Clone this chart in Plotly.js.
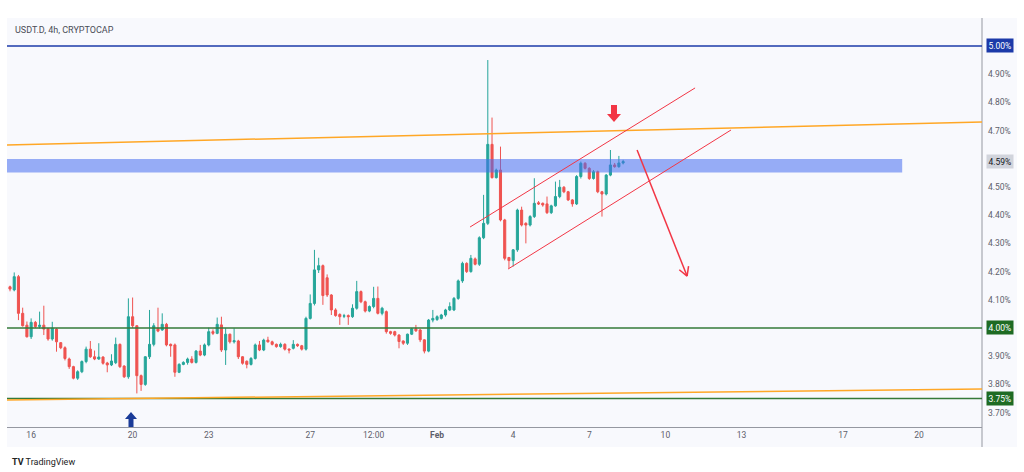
<!DOCTYPE html>
<html>
<head>
<meta charset="utf-8">
<script src="https://cdn.plot.ly/plotly-3.0.1.min.js"></script>
<style>
  html,body{margin:0;padding:0;background:#ffffff;}
  #chart{width:1024px;height:472px;}
</style>
</head>
<body>
<div id="chart"></div>
<script>
// ---- 4h candles, USDT.D ----
const firstCandle = '2025-01-15T04:00:00Z';
const candleHours = 4;

const openP = [4.146,4.135,4.182,4.052,4.010,3.969,4.020,4.005,4.010,3.998,
3.961,3.996,3.948,3.930,3.890,3.863,3.822,3.845,3.881,3.925,
3.898,3.890,3.897,3.876,3.869,3.877,3.942,3.865,3.827,4.040,
4.008,3.831,3.800,3.898,3.942,3.999,3.993,4.013,3.942,3.940,
3.843,3.871,3.878,3.890,3.878,3.918,3.904,3.940,3.987,3.981,
4.011,3.922,3.978,3.951,3.954,3.898,3.882,3.871,3.892,3.940,
3.922,3.957,3.951,3.942,3.934,3.942,3.925,3.928,3.942,3.937,
3.925,4.034,4.087,4.206,4.221,4.178,4.117,4.064,4.048,4.042,
4.044,4.040,4.070,4.129,4.093,4.060,4.076,4.105,4.052,4.058,
3.987,3.987,3.975,3.954,3.946,3.978,3.997,3.993,3.958,3.918,
4.028,4.030,4.034,4.046,4.064,4.064,4.105,4.167,4.229,4.200,
4.245,4.226,4.320,4.371,4.651,4.533,4.560,4.383,4.250,4.239,
4.277,4.418,4.371,4.365,4.395,4.444,4.442,4.440,4.409,4.433,
4.466,4.499,4.483,4.454,4.440,4.537,4.584,4.566,4.530,4.554,
4.483,4.475,4.542,4.578,4.572,4.585];

const highP = [4.150,4.197,4.188,4.072,4.023,4.034,4.025,4.058,4.079,4.000,
4.022,4.000,3.950,3.935,3.895,3.866,3.850,3.885,3.934,3.954,
3.920,3.946,3.900,3.880,3.907,3.966,3.945,3.868,4.105,4.108,
4.010,3.835,3.900,4.064,4.017,4.072,4.052,4.018,3.945,3.945,
3.875,3.882,3.895,3.900,3.922,3.940,3.945,4.001,3.995,4.037,
4.040,3.999,3.980,3.999,3.958,3.900,3.885,3.897,3.945,3.954,
3.962,3.969,3.955,3.945,3.948,3.946,3.928,3.957,3.945,3.940,
4.040,4.119,4.277,4.249,4.225,4.190,4.120,4.070,4.052,4.050,
4.048,4.084,4.167,4.133,4.097,4.080,4.146,4.147,4.075,4.062,
3.990,3.990,3.978,3.956,3.980,4.000,4.011,3.997,3.960,4.032,
4.064,4.045,4.050,4.068,4.091,4.110,4.172,4.235,4.233,4.259,
4.250,4.325,4.472,4.950,4.746,4.565,4.643,4.387,4.252,4.280,
4.423,4.430,4.375,4.400,4.531,4.450,4.445,4.466,4.437,4.519,
4.525,4.503,4.486,4.457,4.542,4.590,4.588,4.570,4.560,4.558,
4.486,4.546,4.631,4.585,4.610,4.596];

const lowP = [4.130,4.130,4.028,4.005,3.966,3.961,4.000,3.998,3.975,3.955,
3.955,3.916,3.925,3.885,3.855,3.818,3.816,3.840,3.875,3.894,
3.886,3.887,3.870,3.843,3.865,3.872,3.858,3.823,3.820,4.000,
3.768,3.777,3.795,3.890,3.935,3.985,3.990,3.935,3.898,3.827,
3.840,3.868,3.870,3.874,3.874,3.900,3.900,3.935,3.975,3.978,
3.915,3.869,3.945,3.945,3.890,3.870,3.857,3.867,3.888,3.918,
3.918,3.948,3.938,3.930,3.930,3.920,3.910,3.924,3.933,3.920,
3.920,4.030,4.080,4.195,4.082,4.110,4.046,4.040,4.011,4.035,
4.011,4.036,4.065,4.088,4.055,4.056,4.070,4.048,4.045,3.980,
3.976,3.970,3.928,3.940,3.940,3.975,3.986,3.950,3.910,3.914,
4.020,4.025,4.030,4.040,4.060,4.060,4.100,4.160,4.195,4.196,
4.222,4.220,4.315,4.365,4.530,4.530,4.378,4.240,4.212,4.218,
4.270,4.360,4.300,4.360,4.390,4.436,4.430,4.404,4.404,4.430,
4.460,4.478,4.450,4.430,4.436,4.530,4.562,4.525,4.526,4.478,
4.395,4.470,4.538,4.568,4.568,4.580];

const closeP = [4.138,4.182,4.052,4.008,3.969,4.020,4.005,4.010,3.996,3.961,
3.999,3.951,3.930,3.892,3.863,3.822,3.845,3.881,3.925,3.898,
3.890,3.897,3.875,3.869,3.883,3.942,3.863,3.827,4.040,4.008,
3.831,3.800,3.898,3.942,4.008,3.989,4.013,3.940,3.937,3.843,
3.871,3.878,3.890,3.878,3.918,3.904,3.940,3.987,3.981,4.013,
3.922,3.978,3.951,3.955,3.898,3.875,3.871,3.892,3.940,3.922,
3.957,3.951,3.942,3.934,3.942,3.925,3.922,3.942,3.937,3.925,
4.034,4.087,4.206,4.221,4.115,4.117,4.064,4.044,4.040,4.043,
4.040,4.070,4.129,4.093,4.060,4.076,4.105,4.052,4.070,3.987,
3.981,3.975,3.952,3.946,3.978,3.997,3.990,3.958,3.918,4.028,
4.034,4.040,4.046,4.064,4.076,4.105,4.167,4.229,4.200,4.247,
4.226,4.320,4.371,4.651,4.533,4.560,4.383,4.247,4.239,4.277,
4.418,4.365,4.365,4.395,4.442,4.440,4.436,4.409,4.433,4.466,
4.499,4.483,4.454,4.440,4.537,4.584,4.566,4.530,4.554,4.483,
4.475,4.542,4.578,4.572,4.585,4.590];

// ---- axis ticks ----
const xTickDates  = ['2025-01-16','2025-01-20','2025-01-23','2025-01-27','2025-01-29 12:00','2025-02-01','2025-02-04','2025-02-07','2025-02-10','2025-02-13','2025-02-17','2025-02-20'];
const xTickLabels = ['16','20','23','27','12:00','<b>Feb</b>','4','7','10','13','17','20'];
const yTickVals   = [3.7,3.8,3.9,4.1,4.2,4.3,4.4,4.5,4.7,4.8,4.9];
const xRange = ['2025-01-15 01:10','2025-02-22 11:30'];
const yRange = [3.649, 5.099];

// ---- drawings (levels, trendlines, channel) ----
const levelBlue = 5.00, levelGreenA = 4.00, levelGreenB = 3.75, lastPrice = 4.59;
const upperTrend = [4.649, 4.730];          // price at left / right edge
const lowerTrend = [3.745, 3.784];
const zone = {x1:'2025-02-19 08:00', y0:4.551, y1:4.599};
const channelUpper = [['2025-02-02 07:13',4.358],['2025-02-11 04:04',4.851]];
const channelLower = [['2025-02-03 19:10',4.209],['2025-02-12 14:06',4.702]];
const projArrow = [['2025-02-08 21:13',4.631],['2025-02-10 20:30',4.184]];
const projHeadL = ['2025-02-10 13:08',4.2064];
const projHeadR = ['2025-02-10 21:55',4.2195];

// timestamps
const t0 = Date.parse(firstCandle);
const times = openP.map((_,i)=>new Date(t0 + i*candleHours*3600e3).toISOString().slice(0,16).replace('T',' '));

const GREEN='#26a69a', RED='#ef5350', LINERED='#f23645';

const trace = {
  type:'candlestick', x:times, open:openP, high:highP, low:lowP, close:closeP,
  increasing:{line:{color:GREEN,width:1},fillcolor:GREEN},
  decreasing:{line:{color:RED,width:1},fillcolor:RED},
  whiskerwidth:0, hoverinfo:'skip'
};

// pixel -> paper helper for small decorative block arrows
const P = {l:7,r:982,t:18,b:427};
function px(x){return (x-P.l)/(P.r-P.l);}
function py(y){return (P.b-y)/(P.b-P.t);}
function blockArrow(cx, yTail, yNeck, yTip, stemHalf, headHalf){
  return 'M'+px(cx-stemHalf)+','+py(yTail)+' L'+px(cx+stemHalf)+','+py(yTail)+
         ' L'+px(cx+stemHalf)+','+py(yNeck)+' L'+px(cx+headHalf)+','+py(yNeck)+
         ' L'+px(cx)+','+py(yTip)+' L'+px(cx-headHalf)+','+py(yNeck)+
         ' L'+px(cx-stemHalf)+','+py(yNeck)+' Z';
}

const rightEdge = (1017-P.l)/(P.r-P.l);
const bottomEdge = (P.b-447)/(P.b-P.t);

const shapes = [
  {type:'rect',xref:'paper',yref:'paper',x0:0,x1:rightEdge,y0:bottomEdge,y1:1,fillcolor:'#f8f9fd',line:{width:0},layer:'below'},
  {type:'line',xref:'paper',yref:'paper',x0:1,x1:1,y0:bottomEdge,y1:1,line:{color:'#9598a1',width:1}},
  {type:'line',xref:'paper',yref:'y',x0:0,x1:1,y0:levelBlue,y1:levelBlue,line:{color:'#1c3aa9',width:1.5}},
  {type:'line',xref:'paper',yref:'y',x0:0,x1:1,y0:levelGreenA,y1:levelGreenA,line:{color:'#357a38',width:1.5}},
  {type:'line',xref:'paper',yref:'y',x0:0,x1:1,y0:levelGreenB,y1:levelGreenB,line:{color:'#357a38',width:1.5}},
  {type:'line',xref:'paper',yref:'y',x0:0,x1:1,y0:upperTrend[0],y1:upperTrend[1],line:{color:'#ffa726',width:1.5}},
  {type:'line',xref:'paper',yref:'y',x0:0,x1:1,y0:lowerTrend[0],y1:lowerTrend[1],line:{color:'#ffa726',width:1.5}},
  {type:'rect',xref:'x',yref:'y',x0:xRange[0],x1:zone.x1,y0:zone.y0,y1:zone.y1,fillcolor:'rgba(70,110,240,0.55)',line:{width:0},layer:'above'},
  {type:'line',xref:'x',yref:'y',x0:channelUpper[0][0],y0:channelUpper[0][1],x1:channelUpper[1][0],y1:channelUpper[1][1],line:{color:LINERED,width:1}},
  {type:'line',xref:'x',yref:'y',x0:channelLower[0][0],y0:channelLower[0][1],x1:channelLower[1][0],y1:channelLower[1][1],line:{color:LINERED,width:1}},
  {type:'line',xref:'x',yref:'y',x0:projArrow[0][0],y0:projArrow[0][1],x1:projArrow[1][0],y1:projArrow[1][1],line:{color:LINERED,width:1.5}},
  {type:'line',xref:'x',yref:'y',x0:projHeadL[0],y0:projHeadL[1],x1:projArrow[1][0],y1:projArrow[1][1],line:{color:LINERED,width:1.5}},
  {type:'line',xref:'x',yref:'y',x0:projHeadR[0],y0:projHeadR[1],x1:projArrow[1][0],y1:projArrow[1][1],line:{color:LINERED,width:1.5}},
  {type:'path',xref:'paper',yref:'paper',path:blockArrow(614,105,114,122,3,7),fillcolor:LINERED,line:{width:0}},
  {type:'path',xref:'paper',yref:'paper',path:blockArrow(131,427,419,412,2.5,6),fillcolor:'#1a3b98',line:{width:0}}
];

function priceTag(v, bg, fg){
  return {xref:'paper',yref:'y',x:1,y:v,xanchor:'left',yanchor:'middle',xshift:4,
    text:v.toFixed(2)+'%',showarrow:false,bgcolor:bg,borderpad:1.5,
    font:{family:'Roboto, Liberation Sans, sans-serif',size:8.5,color:fg}};
}

const annotations = [
  {xref:'paper',yref:'paper',x:px(13),y:py(30),xanchor:'left',yanchor:'middle',showarrow:false,
   text:'USDT.D, 4h, CRYPTOCAP',font:{family:'Roboto, Liberation Sans, sans-serif',size:9,color:'#4a4d57'}},
  priceTag(levelBlue,'#1c3aa9','#ffffff'),
  priceTag(lastPrice,'#d1d4dc','#131722'),
  priceTag(levelGreenA,'#1e6b23','#ffffff'),
  priceTag(levelGreenB,'#1e6b23','#ffffff'),
  {xref:'paper',yref:'paper',x:px(10),y:py(462),xanchor:'left',yanchor:'middle',showarrow:false,
   text:'<b>TV</b> TradingView',font:{family:'Roboto, Liberation Sans, sans-serif',size:9,color:'#222'}}
];

const layout = {
  width:1024, height:472,
  margin:{l:7,r:42,t:18,b:45},
  paper_bgcolor:'#ffffff', plot_bgcolor:'#f8f9fd',
  showlegend:false,
  xaxis:{type:'date',range:xRange,rangeslider:{visible:false},tickmode:'array',tickvals:xTickDates,ticktext:xTickLabels,
    showgrid:false,zeroline:false,showline:true,linecolor:'#9598a1',linewidth:1,ticks:'',
    tickfont:{family:'Roboto, Liberation Sans, sans-serif',size:8.5,color:'#5d606b'}},
  yaxis:{side:'right',range:yRange,tickmode:'array',tickvals:yTickVals,ticktext:yTickVals.map(v=>v.toFixed(2)+'%'),
    showgrid:false,zeroline:false,showline:false,ticks:'',ticklabelstandoff:5,
    tickfont:{family:'Roboto, Liberation Sans, sans-serif',size:8.5,color:'#5d606b'}},
  shapes:shapes, annotations:annotations
};

Plotly.newPlot('chart',[trace],layout,{staticPlot:true,displayModeBar:false});
</script>
</body>
</html>
